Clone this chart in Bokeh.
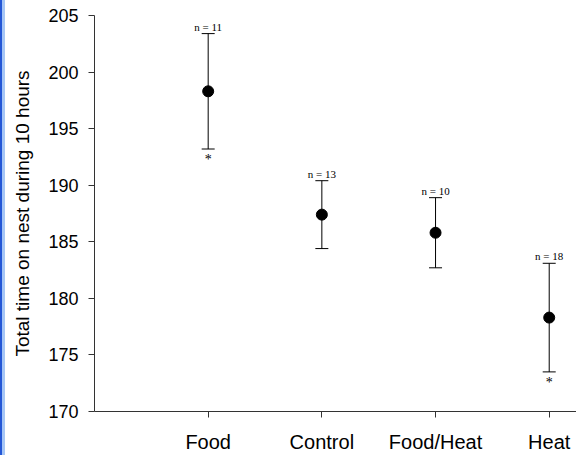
from bokeh.plotting import figure
from bokeh.models import Range1d, ColumnDataSource, Whisker, TeeHead, FixedTicker, InlineStyleSheet
from bokeh.embed import file_html
from bokeh.resources import INLINE
from bokeh.core.properties import value

groups = ["Food", "Control", "Food/Heat", "Heat"]
xpos = [1, 2, 3, 4]
means = [198.3, 187.4, 185.8, 178.3]
upper = [203.4, 190.4, 188.9, 183.1]
lower = [193.2, 184.4, 182.7, 173.5]
n_labels = ["n = 11", "n = 13", "n = 10", "n = 18"]
sig = ["*", "", "", "*"]
yticks = [170, 175, 180, 185, 190, 195, 200, 205]
y_title = "Total time on nest during 10 hours"

src = ColumnDataSource(dict(x=xpos, m=means, up=upper, lo=lower, n=n_labels, s=sig))

p = figure(width=576, height=455, output_backend="svg", toolbar_location=None,
           x_range=Range1d(0, 4.24), y_range=Range1d(170, 205),
           min_border_left=94, min_border_right=0, min_border_top=15, min_border_bottom=43)
p.outline_line_color = None
p.xgrid.visible = False
p.ygrid.visible = False
p.background_fill_color = "white"
p.border_fill_color = "white"
p.stylesheets = [InlineStyleSheet(css=(
    ":host::before { content: ''; position: absolute; left: 0; top: 0; width: 5px; height: 100%;"
    " background: linear-gradient(to right, #2457d6 50%, #a6c6f6 50%); z-index: 100; }"))]

w = Whisker(source=src, base="x", upper="up", lower="lo", line_color="black", line_width=1,
            upper_head=TeeHead(size=13, line_color="black", line_width=1),
            lower_head=TeeHead(size=13, line_color="black", line_width=1))
p.add_layout(w)
p.scatter("x", "m", source=src, size=11, color="black")

p.text("x", "up", text="n", source=src, text_align="center", text_baseline="bottom",
       text_font=value("Liberation Serif"), text_font_size="11px", text_color="black", y_offset=-1)
p.text("x", "lo", text="s", source=src, text_align="center", text_baseline="top",
       text_font=value("Liberation Serif"), text_font_size="14px", text_color="black", y_offset=3)

p.yaxis.ticker = FixedTicker(ticks=yticks)
p.yaxis.minor_tick_line_color = None
p.yaxis.major_tick_out = 6
p.yaxis.major_tick_in = 0
p.yaxis.major_label_standoff = 10
p.yaxis.major_label_text_font = "Liberation Sans"
p.yaxis.major_label_text_font_size = "18px"
p.yaxis.major_label_text_color = "black"
p.yaxis.axis_label = y_title
p.yaxis.axis_label_text_font = "Liberation Sans"
p.yaxis.axis_label_text_font_size = "19px"
p.yaxis.axis_label_text_font_style = "normal"
p.yaxis.axis_label_text_color = "black"
p.yaxis.axis_label_standoff = 12
p.yaxis.axis_line_color = "#333333"
p.yaxis.major_tick_line_color = "#333333"

p.xaxis.ticker = FixedTicker(ticks=xpos)
p.xaxis.major_label_overrides = {x: g for x, g in zip(xpos, groups)}
p.xaxis.minor_tick_line_color = None
p.xaxis.major_tick_out = 6
p.xaxis.major_tick_in = 0
p.xaxis.major_label_standoff = 13
p.xaxis.major_label_text_font = "Liberation Sans"
p.xaxis.major_label_text_font_size = "20px"
p.xaxis.major_label_text_color = "black"
p.xaxis.axis_line_color = "#333333"
p.xaxis.major_tick_line_color = "#333333"

open("out.html", "w").write(file_html(p, INLINE))
